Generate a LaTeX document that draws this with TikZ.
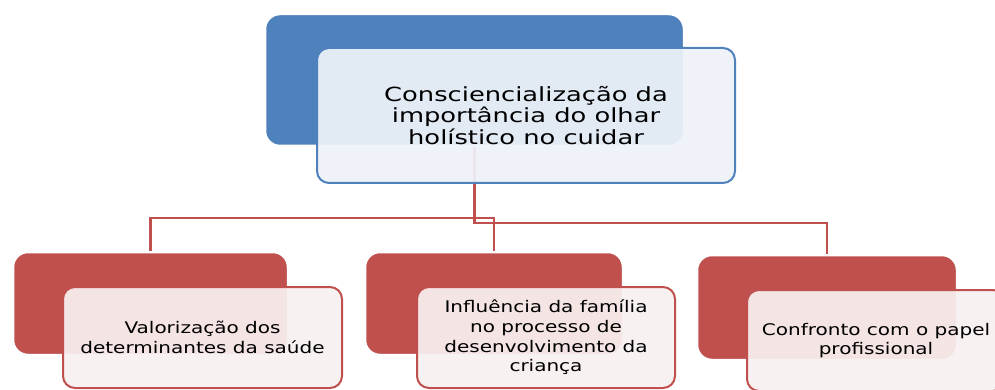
\documentclass[tikz,border=0pt]{standalone}
\usepackage{fontspec}
\newfontfamily\topfont[FakeStretch=1.32]{DejaVu Sans}
\newfontfamily\subfont[FakeStretch=1.25]{DejaVu Sans}
\usetikzlibrary{positioning,shadows}
\definecolor{hblue}{HTML}{4F81BD}
\definecolor{hred}{HTML}{C0504D}
\definecolor{hbluefront}{HTML}{EEF2F9}
\definecolor{hredfront}{HTML}{F8F0F0}

\begin{document}
\begin{tikzpicture}[
    x=1pt, y=-1pt,
    backbox/.style={rectangle, rounded corners=15pt, draw=white, line width=2.5pt, inner sep=0pt,
        drop shadow={shadow xshift=0.6pt, shadow yshift=-0.8pt, opacity=0.3}},
    frontbox/.style={rectangle, rounded corners=12pt, line width=2pt, inner sep=0pt,
        fill opacity=0.93, text opacity=1, align=center},
    conn/.style={draw=hred, line width=2.4pt}
]
\useasboundingbox (0,0) rectangle (995,390);

% Top back box
\node[backbox, fill=hblue, minimum width=419pt, minimum height=132pt] (pb) at (474.5,80) {};

% Child back boxes
\node[backbox, fill=hred, minimum width=275pt, minimum height=103pt] (lb) at (150.5,303.5) {};
\node[backbox, fill=hred, minimum width=258pt, minimum height=103pt] (mb) at (494,303.5) {};
\node[backbox, fill=hred, minimum width=260pt, minimum height=105pt] (rb) at (827,307.5) {};

% Connectors
\draw[conn] (pb.south) -- ++(0,71) -| (lb.north);
\draw[conn] (pb.south) -- ++(0,71) -| (mb.north);
\draw[conn] (pb.south) -- ++(0,76) -| (rb.north);

% Top front box
\node[frontbox, draw=hblue, fill=hbluefront, minimum width=418pt, minimum height=135pt,
    font=\topfont\fontsize{19.5}{21.5}\selectfont] (pf) at (526,115.5)
    {Consciencialização da\\importância do olhar\\holístico no cuidar};

% Child front boxes
\node[frontbox, draw=hred, fill=hredfront, minimum width=279pt, minimum height=101pt,
    font=\subfont\fontsize{16}{19.5}\selectfont] (lf) at (202.5,337.5)
    {Valorização dos\\determinantes da saúde};
\node[frontbox, draw=hred, fill=hredfront, minimum width=258pt, minimum height=101pt,
    font=\subfont\fontsize{16}{19.7}\selectfont] (mf) at (546,337.5)
    {Influência da família\\no processo de\\desenvolvimento da\\criança};
\node[frontbox, draw=hred, fill=hredfront, minimum width=258pt, minimum height=101pt,
    font=\subfont\fontsize{16}{19.5}\selectfont] (rf) at (876,340.5)
    {Confronto com o papel\\profissional};

\end{tikzpicture}
\end{document}
